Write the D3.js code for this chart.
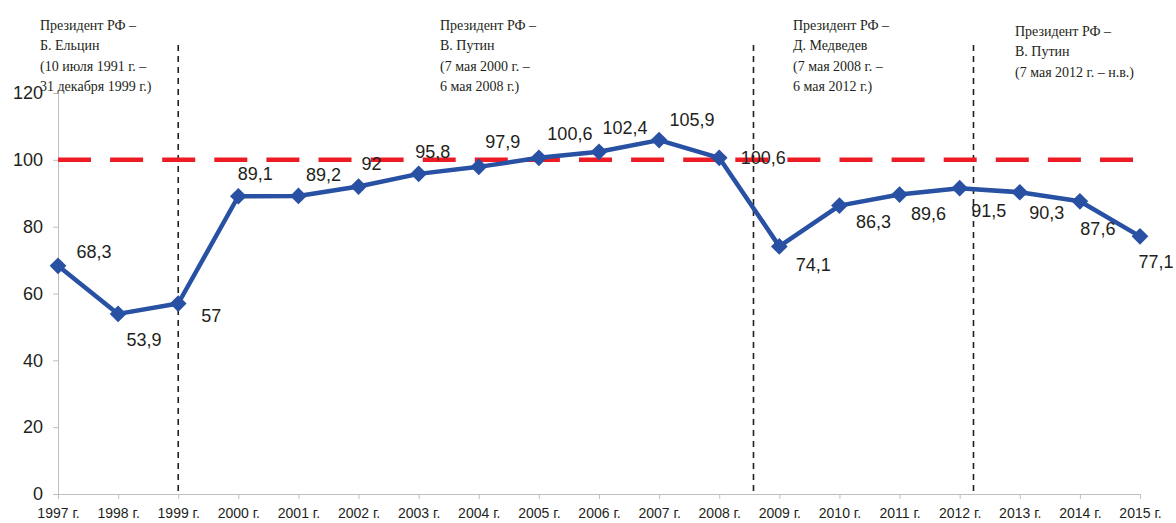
<!DOCTYPE html>
<html>
<head>
<meta charset="utf-8">
<script src="https://cdnjs.cloudflare.com/ajax/libs/d3/7.8.5/d3.min.js"></script>
<style>
  body { margin: 0; background: #fff; }
  svg { display: block; }
  .axis path, .axis line { stroke: #bfbfbf; }
  .axis text { fill: #231f20; font-family: Arial, "Liberation Sans", sans-serif; }
  .note { fill: #231f20; font-family: "Times New Roman", "Liberation Serif", serif; font-size: 14px; }
  .val { fill: #231f20; font-family: Arial, "Liberation Sans", sans-serif; font-size: 18px; }
</style>
</head>
<body>
<svg id="canvas"></svg>
<script>
/***********************************************************************/
// Data

var years = [1997, 1998, 1999, 2000, 2001, 2002, 2003, 2004, 2005, 2006, 2007, 2008, 2009, 2010, 2011, 2012, 2013, 2014, 2015];
var values = [68.3, 53.9, 57, 89.1, 89.2, 92, 95.8, 97.9, 100.6, 102.4, 105.9, 100.6, 74.1, 86.3, 89.6, 91.5, 90.3, 87.6, 77.1];
var yTicks = [0, 20, 40, 60, 80, 100, 120];
var baseline = 100;

// terms of office (divider position in years)
var dividers = [1999.0, 2008.57, 2012.23];
var notes = [
  ['Президент РФ –', 'Б. Ельцин', '(10 июля 1991 г. –', '31 декабря 1999 г.)'],
  ['Президент РФ –', 'В. Путин', '(7 мая 2000 г. –', '6 мая 2008 г.)'],
  ['Президент РФ –', 'Д. Медведев', '(7 мая 2008 г. –', '6 мая 2012 г.)'],
  ['Президент РФ –', 'В. Путин', '(7 мая 2012 г. – н.в.)']
];

// layout only: where each value label sits relative to its point
var labelOffsets = [[36,-14],[26,26],[33,12],[17,-22],[25,-21],[13,-23],[14,-22],[24,-25],[31,-24],[26,-24],
                    [33,-20],[44,0],[34,19],[34,16],[29,19],[29,23],[27,21],[18,28],[16,26]];
var noteX = [40, 440, 793, 1015];
var noteY = [30, 30, 30, 36];

/***********************************************************************/
// Setup

var width = 1176, height = 523;
var svg = d3.select('#canvas').attr('width', width).attr('height', height);

var x = d3.scaleLinear().domain([1997, 2015]).range([58, 1140]);
var y = d3.scaleLinear().domain([0, 120]).range([494, 93]);
var fmt = d3.formatLocale({ decimal: ',', thousands: ' ', grouping: [3], currency: ['', ''] }).format('~f');

/***********************************************************************/
// Axes

svg.append('g').attr('class', 'axis')
  .attr('transform', 'translate(' + x(1997) + ',0)')
  .call(d3.axisLeft(y).tickValues(yTicks).tickSize(5).tickSizeOuter(0).tickPadding(10))
  .call(g => g.selectAll('text').style('font-size', '18px'));

svg.append('g').attr('class', 'axis')
  .attr('transform', 'translate(0,' + y(0) + ')')
  .call(d3.axisBottom(x).tickValues(years).tickFormat(d => d + ' г.').tickSize(5).tickSizeOuter(0).tickPadding(9))
  .call(g => g.selectAll('text').style('font-size', '14px'));

/***********************************************************************/
// Dividers and notes

svg.selectAll('.divider').data(dividers).enter().append('line')
  .attr('class', 'divider')
  .attr('x1', d => x(d)).attr('x2', d => x(d))
  .attr('y1', 45).attr('y2', y(0))
  .style('stroke', '#231f20').style('stroke-width', 1.6).style('stroke-dasharray', '6,5');

notes.forEach((lines, i) => {
  var t = svg.append('text').attr('class', 'note').attr('x', noteX[i]).attr('y', noteY[i]);
  lines.forEach((s, j) => {
    t.append('tspan').attr('x', noteX[i]).attr('dy', j === 0 ? 0 : 20.3).text(s);
  });
});

/***********************************************************************/
// Baseline 100

svg.append('line')
  .attr('x1', x(1997)).attr('x2', 1133)
  .attr('y1', y(baseline)).attr('y2', y(baseline))
  .style('stroke', '#ed1c24').style('stroke-width', 4.5).style('stroke-dasharray', '33,19.1');

/***********************************************************************/
// Series

var line = d3.line().x((d, i) => x(years[i])).y(d => y(d));

svg.append('path').datum(values)
  .attr('d', line)
  .style('fill', 'none').style('stroke', '#2850a3').style('stroke-width', 4.5).style('stroke-linejoin', 'round');

var diamond = d3.symbol().type(d3.symbolSquare).size(140);
svg.selectAll('.marker').data(values).enter().append('path')
  .attr('class', 'marker')
  .attr('d', diamond)
  .attr('transform', (d, i) => 'translate(' + x(years[i]) + ',' + y(d) + ') rotate(45)')
  .style('fill', '#2850a3');

svg.selectAll('.val').data(values).enter().append('text')
  .attr('class', 'val')
  .attr('x', (d, i) => x(years[i]) + labelOffsets[i][0])
  .attr('y', (d, i) => y(d) + labelOffsets[i][1])
  .attr('text-anchor', 'middle')
  .attr('dominant-baseline', 'central')
  .text(d => fmt(d));
</script>
</body>
</html>
